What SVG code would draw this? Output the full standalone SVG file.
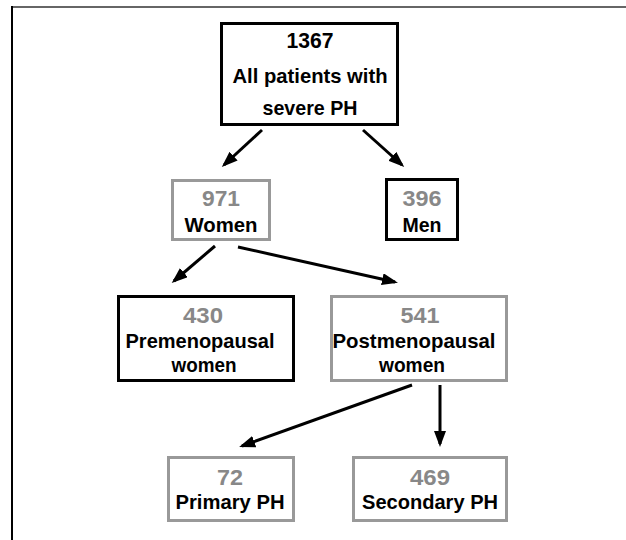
<svg xmlns="http://www.w3.org/2000/svg" width="626" height="540" viewBox="0 0 626 540">
  <defs>
    <style>
      .box { fill: #ffffff; stroke-width: 3; }
      .dark { stroke: #000000; }
      .grey { stroke: #999999; }
      text { font-family: "Liberation Sans", Arial, sans-serif; font-weight: bold; text-anchor: middle; }
      .num { font-size: 22px; fill: #888888; }
      .numk { font-size: 22px; fill: #000000; }
      .lbl { font-size: 21px; fill: #000000; }
      .edge { stroke: #000000; stroke-width: 3; fill: none; marker-end: url(#ah); }
    </style>
    <marker id="ah" viewBox="0 0 16 12" refX="13" refY="6" markerWidth="16" markerHeight="12" markerUnits="userSpaceOnUse" orient="auto">
      <path d="M0,0 L16,6 L0,12 Z" fill="#000000"/>
    </marker>
  </defs>
  <rect x="0" y="0" width="626" height="540" fill="#ffffff"/>
  <g id="frame">
    <line x1="12" y1="7" x2="626" y2="7" stroke="#666666" stroke-width="2"/>
    <line x1="12" y1="6" x2="12" y2="540" stroke="#000000" stroke-width="2"/>
  </g>
  <g id="connectors">
    <line class="edge" x1="262" y1="130" x2="224" y2="165"/>
    <line class="edge" x1="363" y1="130" x2="402" y2="165"/>
    <line class="edge" x1="215" y1="246" x2="174" y2="281"/>
    <line class="edge" x1="238" y1="247" x2="395" y2="282"/>
    <line class="edge" x1="412" y1="385" x2="242" y2="446"/>
    <line class="edge" x1="440" y1="385" x2="440" y2="444"/>
  </g>
  <g id="n-all">
    <rect class="box dark" x="221.5" y="23.5" width="176" height="101"/>
    <text class="numk" x="310" y="48" textLength="47" lengthAdjust="spacingAndGlyphs">1367</text>
    <text class="lbl" x="310" y="83" textLength="155" lengthAdjust="spacingAndGlyphs">All patients with</text>
    <text class="lbl" x="310" y="115" textLength="95" lengthAdjust="spacingAndGlyphs">severe PH</text>
  </g>
  <g id="n-women">
    <rect class="box grey" x="172.5" y="180.5" width="97" height="59"/>
    <text class="num" x="221" y="206" textLength="38" lengthAdjust="spacingAndGlyphs">971</text>
    <text class="lbl" x="221" y="232" textLength="73" lengthAdjust="spacingAndGlyphs">Women</text>
  </g>
  <g id="n-men">
    <rect class="box dark" x="386.5" y="179.5" width="71" height="60"/>
    <text class="num" x="422" y="206" textLength="39" lengthAdjust="spacingAndGlyphs">396</text>
    <text class="lbl" x="422" y="232" textLength="39" lengthAdjust="spacingAndGlyphs">Men</text>
  </g>
  <g id="n-pre">
    <rect class="box dark" x="118.5" y="296.5" width="175" height="84"/>
    <text class="num" x="203" y="323" textLength="40" lengthAdjust="spacingAndGlyphs">430</text>
    <text class="lbl" x="200" y="348" textLength="149" lengthAdjust="spacingAndGlyphs">Premenopausal</text>
    <text class="lbl" x="204" y="372" textLength="65" lengthAdjust="spacingAndGlyphs">women</text>
  </g>
  <g id="n-post">
    <rect class="box grey" x="331.5" y="296.5" width="175" height="84"/>
    <text class="num" x="420" y="323" textLength="39" lengthAdjust="spacingAndGlyphs">541</text>
    <text class="lbl" x="414" y="348" textLength="163" lengthAdjust="spacingAndGlyphs">Postmenopausal</text>
    <text class="lbl" x="412" y="372" textLength="66" lengthAdjust="spacingAndGlyphs">women</text>
  </g>
  <g id="n-primary">
    <rect class="box grey" x="168.5" y="457.5" width="125" height="63"/>
    <text class="num" x="230" y="485" textLength="26" lengthAdjust="spacingAndGlyphs">72</text>
    <text class="lbl" x="230" y="509" textLength="109" lengthAdjust="spacingAndGlyphs">Primary PH</text>
  </g>
  <g id="n-secondary">
    <rect class="box grey" x="353.5" y="457.5" width="153" height="63"/>
    <text class="num" x="430" y="485" textLength="40" lengthAdjust="spacingAndGlyphs">469</text>
    <text class="lbl" x="430" y="509" textLength="136" lengthAdjust="spacingAndGlyphs">Secondary PH</text>
  </g>
</svg>
